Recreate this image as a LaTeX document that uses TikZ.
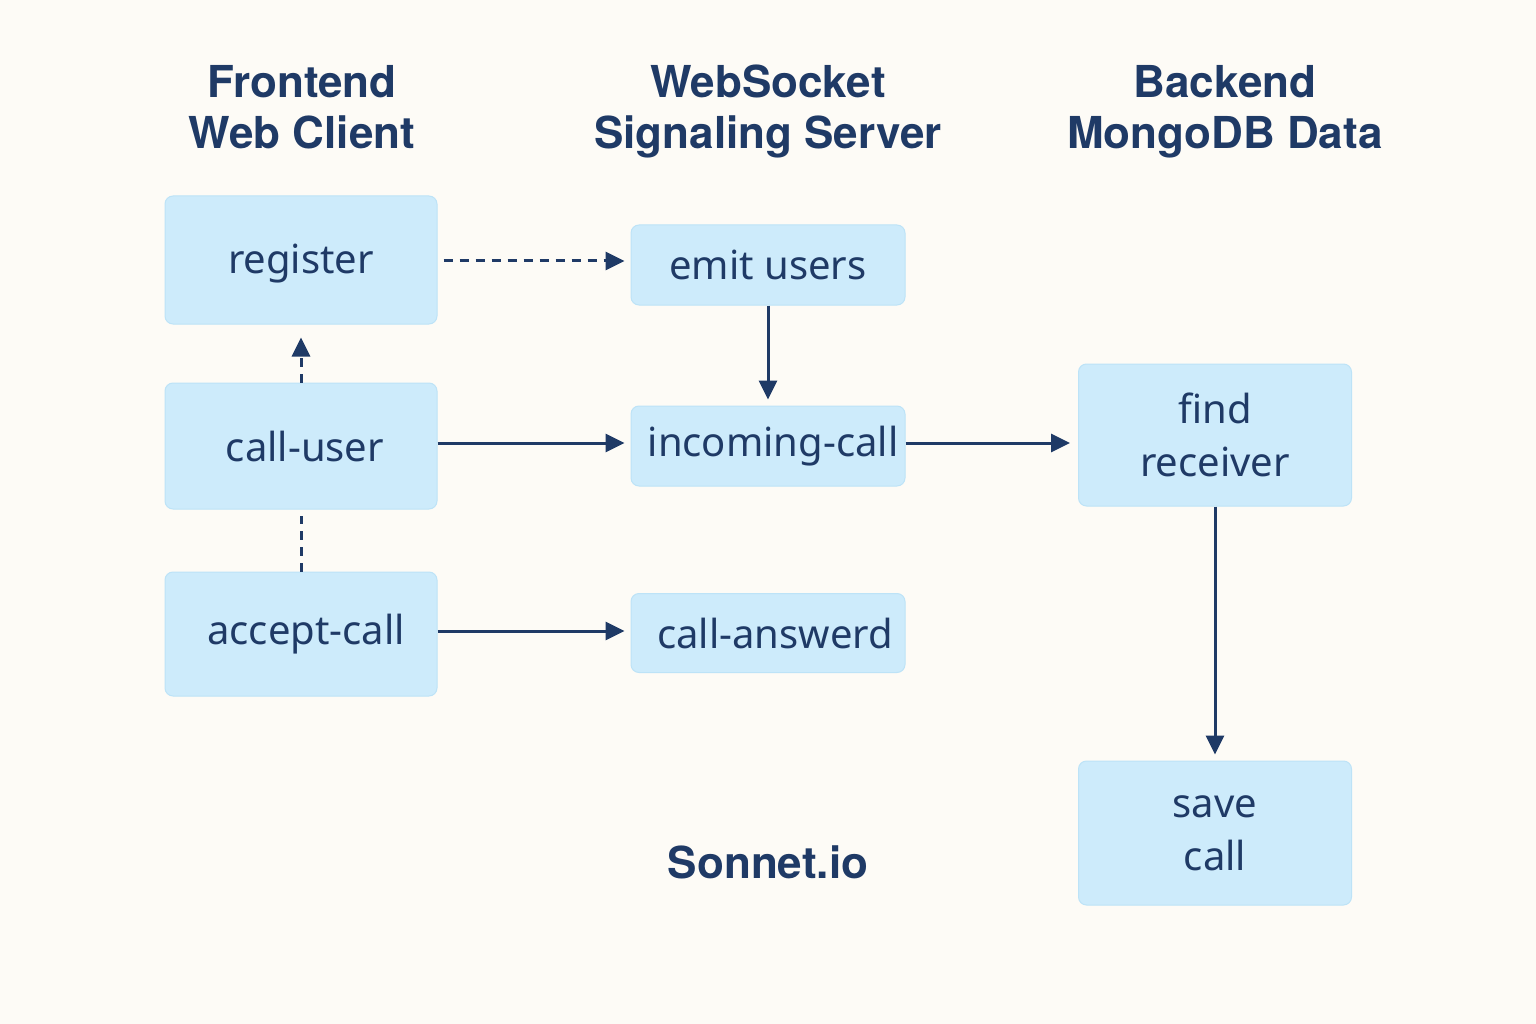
\documentclass[tikz,border=0pt]{standalone}
\usepackage{fontspec}
\setmainfont{Noto Sans}
\newfontfamily\ttlfont{TeX Gyre Heros}
\usetikzlibrary{arrows.meta}
\definecolor{bg}{HTML}{FDFBF6}
\definecolor{boxfill}{HTML}{CDEBFB}
\definecolor{boxline}{HTML}{BDE3F7}
\definecolor{ink}{HTML}{1F3A66}
\tikzset{
  box/.style={draw=boxline, line width=1pt, fill=boxfill, rounded corners=8pt, align=center, text=ink, font=\fontsize{40}{53}\selectfont, inner sep=0pt},
  ttl/.style={text=ink, align=center, inner sep=0pt, font=\ttlfont\fontsize{44}{51}\selectfont\bfseries},
  conn/.style={draw=ink, line width=3pt, -{Triangle[length=19pt,width=18pt]}},
  dconn/.style={conn, dash pattern=on 9pt off 7pt},
}
\begin{document}
\begin{tikzpicture}[x=1pt,y=-1pt]
\fill[bg] (0,0) rectangle (1536,1024);
\useasboundingbox (0,0) rectangle (1536,1024);
\node[ttl, anchor=north] (t1) at (302,65) {Frontend\\Web Client};
\node[ttl, anchor=north] (t2) at (768,65) {WebSocket\\Signaling Server};
\node[ttl, anchor=north] (t3) at (1225,65) {Backend\\MongoDB Data};
\node[box, minimum width=272pt, minimum height=128pt] (reg) at (301,260) {\raisebox{-14pt}[0pt][0pt]{register}};
\node[box, minimum width=272pt, minimum height=126pt] (cu) at (301,446) {\hspace*{8pt}call-user};
\node[box, minimum width=272pt, minimum height=124pt] (ac) at (301,634) {\hspace*{10pt}accept-call};
\node[box, minimum width=274pt, minimum height=80pt] (eu) at (768,265) {emit users};
\node[box, minimum width=274pt, minimum height=80pt] (ic) at (768,446) {\hspace*{10pt}incoming-call};
\node[box, minimum width=274pt, minimum height=79pt] (ca) at (768,633) {\hspace*{14pt}call-answerd};
\node[box, minimum width=273pt, minimum height=142pt] (fr) at (1215,435) {find\\receiver};
\node[box, minimum width=273pt, minimum height=144pt] (sc) at (1215,833) {save\\call};
\node[ttl] (son) at (768,862) {Sonnet.io};
\draw[dconn] ([xshift=6pt]reg.east |- 0,261) -- ([xshift=-6pt]eu.west |- 0,261);
\draw[dconn] (cu.north) -- ([yshift=-13pt]reg.south);
\draw[ink, line width=3pt, dash pattern=on 9pt off 7pt] (ac.north) -- ([yshift=-6pt]cu.south);
\draw[conn] (eu.south) -- ([yshift=6pt]ic.north);
\draw[conn] (cu.east |- 0,443) -- ([xshift=-6pt]ic.west |- 0,443);
\draw[conn] (ic.east |- 0,443) -- ([xshift=-8pt]fr.west |- 0,443);
\draw[conn] (ac.east |- 0,631) -- ([xshift=-6pt]ca.west |- 0,631);
\draw[conn] (fr.south) -- ([yshift=6pt]sc.north);
\end{tikzpicture}
\end{document}
